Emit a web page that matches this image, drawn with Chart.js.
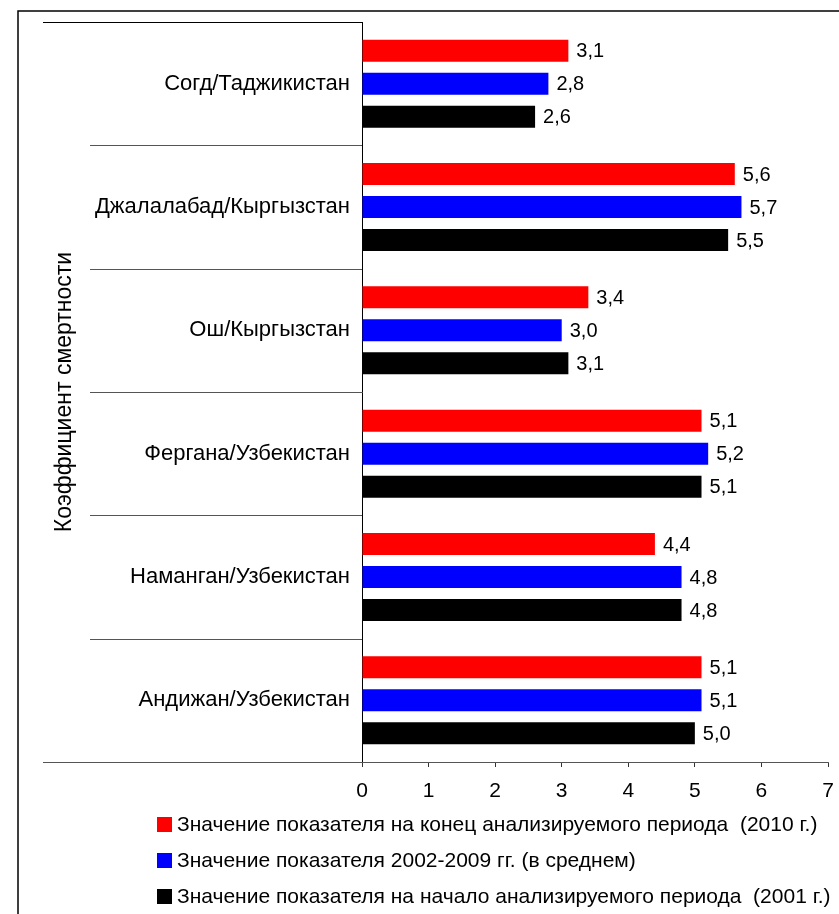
<!DOCTYPE html>
<html>
<head>
<meta charset="utf-8">
<script src="https://cdn.jsdelivr.net/npm/chart.js@4"></script>
<style>
  html, body { margin: 0; padding: 0; background: #fff; }
  #wrap { width: 839px; height: 914px; }
</style>
</head>
<body>
<div id="wrap"><canvas id="c" width="839" height="914"></canvas></div>
<script>
// Regions, top to bottom
const regions = [
  'Согд/Таджикистан',
  'Джалалабад/Кыргызстан',
  'Ош/Кыргызстан',
  'Фергана/Узбекистан',
  'Наманган/Узбекистан',
  'Андижан/Узбекистан'
];

const seriesNames = [
  'Значение показателя на конец анализируемого периода  (2010 г.)',
  'Значение показателя 2002-2009 гг. (в среднем)',
  'Значение показателя на начало анализируемого периода  (2001 г.)'
];

const valuesEnd2010 = [3.1, 5.6, 3.4, 5.1, 4.4, 5.1];
const valuesAvg2002_2009 = [2.8, 5.7, 3.0, 5.2, 4.8, 5.1];
const valuesStart2001 = [2.6, 5.5, 3.1, 5.1, 4.8, 5.0];

const seriesColors = ['#FF0000', '#0000FF', '#000000'];
const axisTitle = 'Коэффициент смертности';
const xTicks = [0, 1, 2, 3, 4, 5, 6, 7];

const FONT = '"Liberation Sans", Arial, sans-serif';

// Frame, category separators, extended axis lines
const framePlugin = {
  id: 'frame',
  beforeDraw(chart) {
    const ctx = chart.ctx;
    ctx.save();
    ctx.fillStyle = '#fff';
    ctx.fillRect(0, 0, chart.width, chart.height);
    ctx.strokeStyle = '#000';
    ctx.lineWidth = 1.5;
    ctx.beginPath();
    ctx.moveTo(18, chart.height + 2);
    ctx.lineTo(18, 11);
    ctx.lineTo(chart.width + 2, 11);
    ctx.stroke();
    ctx.restore();
  },
  afterDraw(chart) {
    const ctx = chart.ctx;
    const y = chart.scales.y;
    const x = chart.scales.x;
    const area = chart.chartArea;
    ctx.save();
    ctx.lineWidth = 1;
    // category boundaries
    const n = regions.length;
    for (let i = 0; i <= n; i++) {
      const py = Math.round(y.getPixelForValue(i - 0.5)) + 0.5;
      let x0 = 90;
      if (i === 0 || i === n) x0 = 43;
      ctx.strokeStyle = i === 0 ? '#000' : '#555';
      ctx.beginPath();
      ctx.moveTo(x0, py);
      ctx.lineTo(i === n ? x.getPixelForValue(7) : area.left, py);
      ctx.stroke();
    }
    ctx.restore();
  }
};

// Value labels at the end of each bar
const valueLabels = {
  id: 'valueLabels',
  afterDatasetsDraw(chart) {
    const ctx = chart.ctx;
    ctx.save();
    ctx.font = '20px ' + FONT;
    ctx.fillStyle = '#000';
    ctx.textBaseline = 'middle';
    ctx.textAlign = 'left';
    chart.data.datasets.forEach((ds, di) => {
      const meta = chart.getDatasetMeta(di);
      meta.data.forEach((bar, i) => {
        const v = ds.data[i];
        ctx.fillText(v.toFixed(1).replace('.', ','), bar.x + 8, bar.y + 1);
      });
    });
    ctx.restore();
  }
};

// Legend: one entry per line, below the axis
const legendBlock = {
  id: 'legendBlock',
  afterDraw(chart) {
    const ctx = chart.ctx;
    ctx.save();
    ctx.font = '21px ' + FONT;
    ctx.textBaseline = 'middle';
    ctx.textAlign = 'left';
    const rows = [824, 860, 896];
    chart.data.datasets.forEach((ds, i) => {
      const cy = rows[i];
      ctx.fillStyle = ds.backgroundColor;
      ctx.fillRect(157, cy - 7, 15, 15);
      ctx.fillStyle = '#000';
      ctx.fillText(ds.label, 177, cy + 1);
    });
    ctx.restore();
  }
};

new Chart(document.getElementById('c'), {
  type: 'bar',
  data: {
    labels: regions,
    datasets: [
      { label: seriesNames[0], data: valuesEnd2010, backgroundColor: seriesColors[0] },
      { label: seriesNames[1], data: valuesAvg2002_2009, backgroundColor: seriesColors[1] },
      { label: seriesNames[2], data: valuesStart2001, backgroundColor: seriesColors[2] }
    ]
  },
  options: {
    indexAxis: 'y',
    responsive: false,
    maintainAspectRatio: false,
    devicePixelRatio: 1,
    animation: false,
    categoryPercentage: 0.803,
    barPercentage: 0.667,
    layout: { padding: { left: 0, right: 11, top: 22, bottom: 0 } },
    plugins: {
      legend: { display: false },
      tooltip: { enabled: false }
    },
    scales: {
      x: {
        type: 'linear',
        min: 0,
        max: 7,
        afterBuildTicks(scale) { scale.ticks = xTicks.map(v => ({ value: v })); },
        afterFit(scale) {
          scale.height = 152;
          scale.paddingLeft = 0;
          scale.paddingRight = 0;
        },
        grid: { drawOnChartArea: false, drawTicks: true, tickLength: 5, color: '#333' },
        border: { display: true, color: '#666', width: 1 },
        ticks: {
          font: { family: FONT, size: 21 },
          color: '#000',
          padding: 12,
          maxRotation: 0
        }
      },
      y: {
        type: 'category',
        offset: true,
        afterFit(scale) { scale.width = 362; },
        grid: { display: false },
        border: { display: true, color: '#000', width: 1 },
        ticks: {
          font: { family: FONT, size: 22 },
          color: '#000',
          padding: 4,
          autoSkip: false
        },
        title: {
          display: true,
          text: axisTitle,
          font: { family: FONT, size: 23 },
          color: '#000',
          padding: { top: 51, bottom: 0 }
        }
      }
    }
  },
  plugins: [framePlugin, valueLabels, legendBlock]
});
</script>
</body>
</html>
